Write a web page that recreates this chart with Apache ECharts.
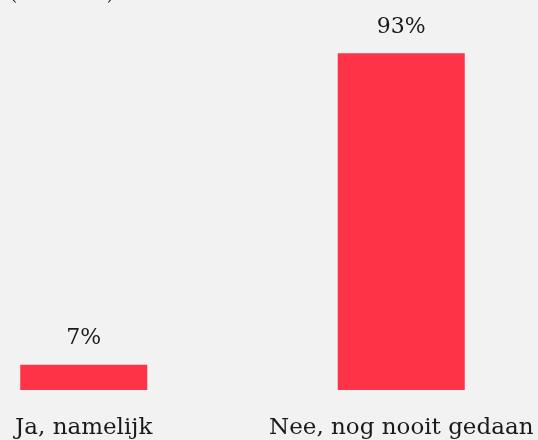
<!DOCTYPE html>
<html><head><meta charset="utf-8">
<script src="https://cdn.jsdelivr.net/npm/echarts@6/dist/echarts.min.js"></script>
<style>html,body{margin:0;padding:0;background:#f2f2f2;}#c{width:538px;height:440px;}</style>
</head><body><div id="c"></div>
<script>
const categories = ["Ja, namelijk", "Nee, nog nooit gedaan"];
const values = [7, 93];
const subtitle = "(n = 1.000)";
const font = "DejaVu Serif";
const chart = echarts.init(document.getElementById('c'));
chart.setOption({
  backgroundColor: '#f2f2f2',
  animation: false,
  title: { text: subtitle, left: 5, top: -19, textStyle: { fontFamily: font, fontSize: 18, fontWeight: 'normal', color: '#1a1a1a' } },
  grid: { left: -75, right: -22, top: 28, bottom: 50, outerBoundsMode: 'none', containLabel: false },
  xAxis: { type: 'category', data: categories, axisLine: { show: false }, axisTick: { show: false },
    axisLabel: { fontFamily: font, fontSize: 23, color: '#1a1a1a', margin: 27, interval: 0, hideOverlap: false } },
  yAxis: { type: 'value', min: 0, max: 100, show: false, splitLine: { show: false } },
  series: [{ type: 'bar', data: values, barWidth: '40%', itemStyle: { color: '#ff3347' },
    label: { show: true, position: 'top', distance: 15, formatter: '{c}%', fontFamily: font, fontSize: 22, color: '#1a1a1a' } }]
});
</script></body></html>
